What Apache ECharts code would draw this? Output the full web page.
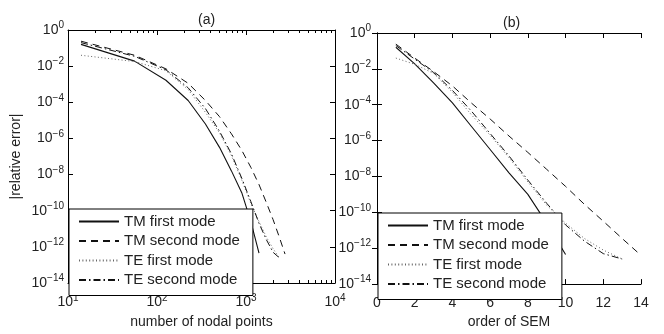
<!DOCTYPE html>
<html><head><meta charset="utf-8">
<script src="https://cdn.jsdelivr.net/npm/echarts@6/dist/echarts.min.js"></script>
<style>html,body{margin:0;padding:0;background:#fff}#c{width:664px;height:334px}</style>
</head><body><div id="c"></div>
<script>
// ---- data ----
const nodalPoints = [14, 56, 126, 224, 350, 504, 686, 896, 1134, 1400, 1694, 2016, 2366, 2744];
const semOrders = [1, 2, 3, 4, 5, 6, 7, 8, 9, 10, 11, 12, 13, 14];
const tmFirst = [1.6e-1, 1.9e-2, 1.66e-3, 1.26e-4, 6.3e-6, 3.2e-7, 1.6e-8, 1.0e-9, 2.5e-11, 4.5e-13];
const tmSecond = [2.4e-1, 4.0e-2, 7.1e-3, 1.12e-3, 1.26e-4, 1.6e-5, 1.8e-6, 2.2e-7, 2.5e-8, 2.8e-9, 2.8e-10, 3.2e-11, 3.5e-12, 4.0e-13];
const teFirst = [4.0e-2, 1.8e-2, 5.6e-3, 5.0e-4, 2.8e-5, 2.0e-6, 1.12e-7, 5.0e-9, 2.5e-10, 2.5e-11, 3.5e-12, 7.9e-13, 2.5e-13];
const teSecond = [2.0e-1, 3.5e-2, 6.3e-3, 6.3e-4, 4.5e-5, 2.5e-6, 1.4e-7, 6.3e-9, 3.2e-10, 2.0e-11, 2.5e-12, 5.0e-13, 2.5e-13];
const seriesNames = ['TM first mode', 'TM second mode', 'TE first mode', 'TE second mode'];
const panelTitles = ['(a)', '(b)'];
const yTicks = [1, 1e-2, 1e-4, 1e-6, 1e-8, 1e-10, 1e-12, 1e-14];
const xLogTicks = [10, 100, 1000, 10000];
const xLogMinorTicks = [20, 30, 40, 50, 60, 70, 80, 90, 200, 300, 400, 500, 600, 700, 800, 900, 2000, 3000, 4000, 5000, 6000, 7000, 8000, 9000];
const xOrderTicks = [0, 2, 4, 6, 8, 10, 12, 14];

// ---- build ----
const FONT = 'Liberation Sans, Arial, sans-serif';
const TXT = '#222';
const allValues = [tmFirst, tmSecond, teFirst, teSecond];
const lineStyles = [
  {type: 'solid', color: '#111', width: 1.1},
  {type: [7, 5], color: '#111', width: 1},
  {type: [1, 2.4], color: '#666', width: 1},
  {type: [7, 3, 1.5, 3], color: '#111', width: 1}
];
const powLabel = function (v) {
  const e = Math.round(Math.log10(v));
  return '{b|10}{s|' + String(e).replace('-', '\u2212') + '}';
};
const richPow = {
  b: {fontSize: 14, fontFamily: FONT, color: TXT},
  s: {fontSize: 10, fontFamily: FONT, color: TXT, padding: [0, 0, 9, 0]}
};
const frameLine = {show: true, lineStyle: {color: '#000', width: 1}};
function tick(vals, len) {
  return {show: true, inside: true, length: len, customValues: vals, lineStyle: {color: '#000', width: 1}};
}
const gridsDef = [
  {left: 68, top: 30, width: 267, height: 262},
  {left: 377, top: 33, width: 264, height: 263}
];
function logX(gi, pos, extra) {
  return Object.assign({type: 'log', logBase: 10, gridIndex: gi, position: pos, min: 10, max: 10000,
    axisLine: frameLine, splitLine: {show: false}, axisLabel: {show: false}, axisTick: tick(xLogTicks, 5)}, extra || {});
}
const xAxes = [
  logX(0, 'bottom', {
    axisLabel: {show: true, customValues: xLogTicks, formatter: powLabel, rich: richPow, margin: 10},
    name: 'number of nodal points', nameLocation: 'middle', nameGap: 32,
    nameTextStyle: {fontSize: 14, fontFamily: FONT, color: TXT}
  }),
  logX(0, 'top'),
  logX(0, 'bottom', {axisLine: {show: false}, axisTick: tick(xLogMinorTicks, 3)}),
  logX(0, 'top', {axisLine: {show: false}, axisTick: tick(xLogMinorTicks, 3)}),
  {type: 'value', gridIndex: 1, position: 'bottom', min: 0, max: 14, interval: 2,
    axisLine: frameLine, splitLine: {show: false}, axisTick: tick(xOrderTicks, 5),
    axisLabel: {show: true, customValues: xOrderTicks, fontSize: 14, fontFamily: FONT, color: TXT, margin: 12},
    name: 'order of SEM', nameLocation: 'middle', nameGap: 27,
    nameTextStyle: {fontSize: 14, fontFamily: FONT, color: TXT}},
  {type: 'value', gridIndex: 1, position: 'top', min: 0, max: 14, interval: 2,
    axisLine: frameLine, splitLine: {show: false}, axisTick: tick(xOrderTicks, 5), axisLabel: {show: false}}
];
function logY(gi, pos, extra) {
  return Object.assign({type: 'log', logBase: 10, gridIndex: gi, position: pos, min: 1e-14, max: 1,
    axisLine: frameLine, splitLine: {show: false}, axisLabel: {show: false}, axisTick: tick(yTicks, 5)}, extra || {});
}
const yLabel = {show: true, customValues: yTicks, formatter: powLabel, rich: richPow, margin: 4};
const yAxes = [
  logY(0, 'left', {axisLabel: yLabel, name: '|relative error|', nameLocation: 'middle', nameRotate: 90, nameGap: 45,
    nameTextStyle: {fontSize: 14, fontFamily: FONT, color: TXT}}),
  logY(0, 'right'),
  logY(1, 'left', {axisLabel: Object.assign({}, yLabel, {margin: 6})}),
  logY(1, 'right')
];
const series = [];
[[nodalPoints, 0, 0], [semOrders, 4, 2]].forEach(function (p) {
  allValues.forEach(function (vals, i) {
    series.push({
      name: seriesNames[i], type: 'line', xAxisIndex: p[1], yAxisIndex: p[2],
      data: vals.map(function (v, k) { return [p[0][k], v]; }),
      symbol: 'none', smooth: false, lineStyle: lineStyles[i], itemStyle: {color: lineStyles[i].color},
      emphasis: {disabled: true}, animation: false, z: 2
    });
  });
});
function legendAt(left, top) {
  return {left: left, top: top, orient: 'vertical', data: seriesNames, itemWidth: 40, itemHeight: 14, itemGap: 4.5,
    padding: [5, 13, 8, 9], backgroundColor: '#fff', borderColor: '#000', borderWidth: 1, borderRadius: 0,
    itemStyle: {opacity: 0, borderWidth: 0},
    textStyle: {fontSize: 15, fontFamily: FONT, color: TXT}, selectedMode: false, z: 10};
}
const option = {
  backgroundColor: '#fff',
  animation: false,
  title: [
    {text: panelTitles[0], left: 193, top: 8, textStyle: {fontSize: 14, fontWeight: 'normal', fontFamily: FONT, color: TXT}},
    {text: panelTitles[1], left: 498, top: 11, textStyle: {fontSize: 14, fontWeight: 'normal', fontFamily: FONT, color: TXT}}
  ],
  grid: gridsDef,
  xAxis: xAxes,
  yAxis: yAxes,
  legend: [legendAt(69, 209), legendAt(378, 213)],
  series: series
};
const chart = echarts.init(document.getElementById('c'), null, {renderer: 'canvas'});
chart.setOption(option);
</script>
</body></html>
